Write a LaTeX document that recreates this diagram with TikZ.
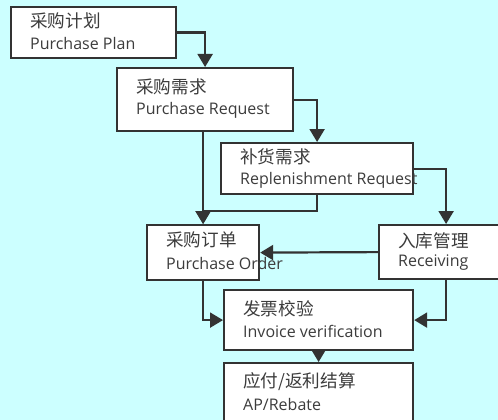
\documentclass[tikz,border=0pt]{standalone}
\usepackage{fontspec}
\setmainfont{Open Sans}
\newfontfamily\cjk{Noto Sans CJK SC}
\usetikzlibrary{arrows.meta}
\definecolor{bgc}{RGB}{204,255,255}
\definecolor{linec}{RGB}{51,51,51}
\definecolor{txtc}{RGB}{60,60,60}
\tikzset{
  box/.style={draw=linec, line width=2.2pt, fill=white, inner sep=0pt, anchor=north west},
  zh/.style={anchor=west, inner sep=0pt, text=txtc, font=\cjk\fontsize{17.6}{19}\selectfont},
  en/.style={anchor=west, inner sep=0pt, text=txtc, font=\fontsize{16}{18}\selectfont},
  conn/.style={draw=linec, line width=2.2pt, -{Triangle[length=13pt,width=15pt]}}
}
\begin{document}
\begin{tikzpicture}[x=1pt,y=-1pt]
\useasboundingbox (0,0) rectangle (498,420);
\clip (0,0) rectangle (498,420);
\fill[bgc] (0,0) rectangle (498,420);
% boxes
\node[box, minimum width=165pt, minimum height=51pt] (b1) at (10,6) {};
\node[box, minimum width=176pt, minimum height=63pt] (b2) at (116,67) {};
\node[box, minimum width=192pt, minimum height=51pt] (b3) at (220,142) {};
\node[box, minimum width=112pt, minimum height=55pt] (b4) at (146,224) {};
\node[box, minimum width=134pt, minimum height=54pt] (b5) at (378,224) {};
\node[box, minimum width=189pt, minimum height=60pt] (b6) at (223,289) {};
\node[box, minimum width=189pt, minimum height=80pt] (b7) at (223,362) {};
% texts
\node[zh] (t1a) at (30,21) {采购计划};
\node[en] (t1b) at (30,44) {Purchase Plan};
\node[zh] (t2a) at (136,87) {采购需求};
\node[en] (t2b) at (136,110) {Purchase Request};
\node[zh] (t3a) at (240,157) {补货需求};
\node[en] (t3b) at (240,180) {Replenishment Request};
\node[zh] (t4a) at (166,240) {采购订单};
\node[en] (t4b) at (166,263) {Purchase Order};
\node[zh] (t5a) at (398,241) {入库管理};
\node[en] (t5b) at (398,263) {Receiving};
\node[zh] (t6a) at (243,309) {发票校验};
\node[en] (t6b) at (243,331) {Invoice verification};
\node[zh] (t7a) at (243,382) {应付/返利结算};
\node[en] (t7b) at (243,404) {AP/Rebate};
% connectors
\draw[conn] (b1.east) -| (b2.north);
\draw[conn] (b2.east) -| (b3.north);
\draw[conn] (b3.east) -| (b5.north);
\draw[conn] (b4.north |- b2.south) -- (b4.north);
\draw[conn] (b3.south) -- ++(0,16) -| (b4.north);
\draw[conn] (b5.west) -- (b4.east);
\draw[conn] (b4.south) |- (b6.west);
\draw[conn] (b5.south) |- (b6.east);
\draw[conn] (b6.south) -- (b6.south |- b7.north);
\end{tikzpicture}
\end{document}
